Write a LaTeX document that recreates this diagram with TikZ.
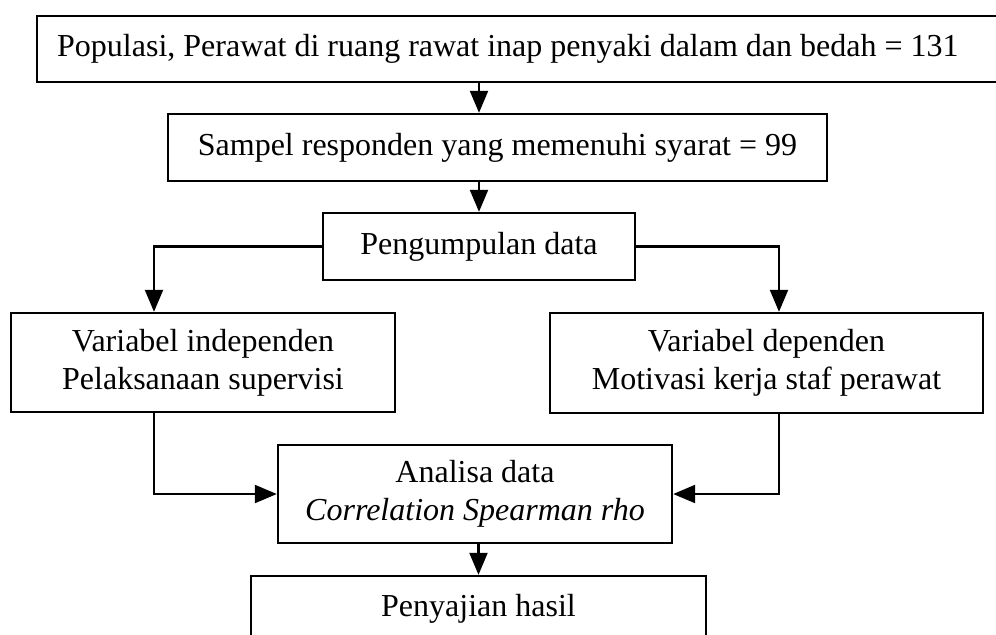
\documentclass[tikz,border=0pt]{standalone}
\usepackage{fontspec}
\setmainfont{Liberation Serif}
\usetikzlibrary{arrows.meta}

\begin{document}
\begin{tikzpicture}[x=0.5pt, y=-0.5pt,
  box/.style={draw, rectangle, line width=1.2pt, inner sep=0pt, align=center,
    font=\fontsize{16}{19}\selectfont},
  arr/.style={-{Triangle[length=11pt,width=9pt]}, line width=1.1pt}]
\clip (0,0) rectangle (996,634);

% Flow boxes
\node[box, anchor=north west, minimum width=490pt, minimum height=33pt,
  text width=470pt, align=flush left] (popul) at (36,15)
  {Populasi, Perawat di ruang rawat inap penyaki dalam dan bedah = 131};
\node[box, minimum width=329.5pt, minimum height=33.5pt] (sampel) at (497.5,147.5)
  {Sampel responden yang memenuhi syarat = 99};
\node[box, minimum width=156pt, minimum height=33.5pt] (kumpul) at (479,246.5)
  {Pengumpulan data};
\node[box, minimum width=192pt, minimum height=49.5pt] (indep) at (203,362.5)
  {Variabel independen\\Pelaksanaan supervisi};
\node[box, minimum width=216.5pt, minimum height=50pt] (dep) at (766.5,363)
  {Variabel dependen\\Motivasi kerja staf perawat};
\node[box, minimum width=197pt, minimum height=49pt] (analisa) at (475,494)
  {Analisa data\\\textit{Correlation Spearman rho}};
\node[box, minimum width=227.5pt, minimum height=33pt] (hasil) at (478.5,609)
  {Penyajian hasil};

% Columns of the side lines
\coordinate (colL) at (154,0);
\coordinate (colR) at (779,0);

% Connections
\draw[arr] (popul.south -| kumpul) -- (sampel.north -| kumpul);
\draw[arr] (sampel.south -| kumpul) -- (kumpul.north);
\draw[arr] (kumpul.west) -| (colL |- indep.north);
\draw[arr] (kumpul.east) -| (colR |- dep.north);
\draw[arr] (indep.south -| colL) |- (analisa.west);
\draw[arr] (dep.south -| colR) |- (analisa.east);
\draw[arr] (analisa.south -| hasil) -- (hasil.north);
\end{tikzpicture}
\end{document}
